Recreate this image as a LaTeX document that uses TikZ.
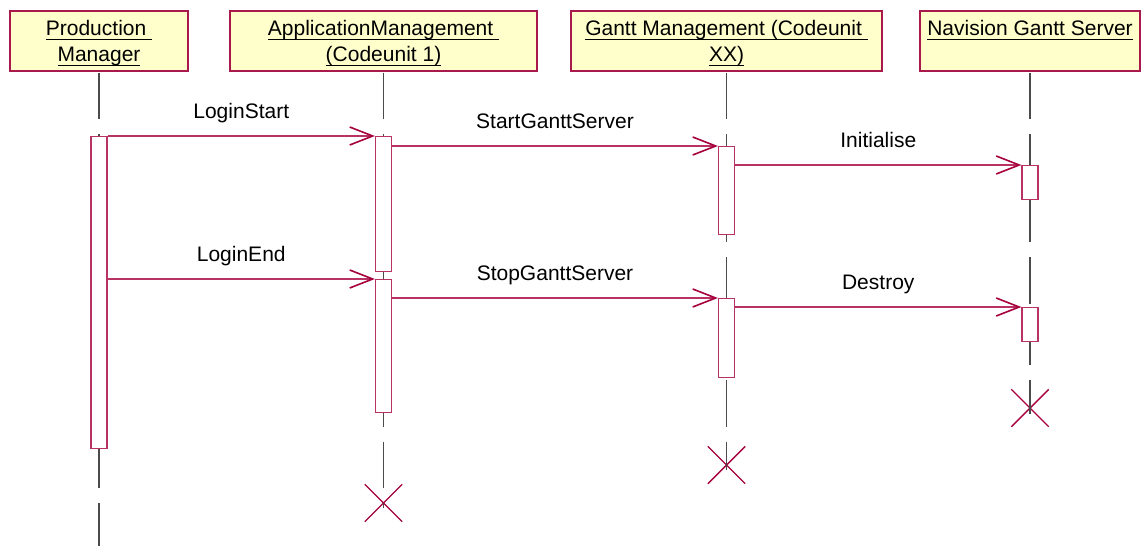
\documentclass[tikz,border=0pt]{standalone}
\usepackage{fontspec}
\setmainfont{Liberation Sans}
\usetikzlibrary{arrows.meta,shapes.misc}
\definecolor{rosedeep}{RGB}{165,0,60}
\definecolor{roseline}{RGB}{185,50,100}
\definecolor{roseframe}{RGB}{170,25,75}
\definecolor{lifegrey}{RGB}{75,75,75}
\definecolor{hdrfill}{RGB}{255,255,204}
% underlined word with the rule at a fixed depth below the baseline
\newcommand\ulword[1]{\setbox0=\hbox{#1}\rlap{\vrule height -3.2pt depth 4.9pt width \wd0}\box0}
\begin{document}
\begin{tikzpicture}[x=1pt,y=-1pt,font=\fontsize{21pt}{25pt}\selectfont,
  hdr/.style={draw=roseframe,line width=1.1pt,fill=hdrfill,minimum height=60pt,inner sep=0pt},
  hdrtxt/.style={anchor=base,inner sep=0pt},
  lifeline/.style={draw=lifegrey,line width=1.1pt,dash pattern=on 46.5pt off 15pt},
  act/.style={draw=roseline,line width=1.2pt,fill=white,minimum width=16pt,inner sep=0pt,anchor=north},
  msg/.style={draw=roseline,line width=1.2pt,-{Straight Barb[length=23pt,width=18pt,line width=1.6pt,color=rosedeep]}},
  msglbl/.style={midway,anchor=base,yshift=17.5pt,inner sep=0pt},
  kill/.style={draw=rosedeep,line width=1.4pt,cross out,minimum size=36pt,inner sep=0pt}]
\useasboundingbox (0,0) rectangle (1141,546);

% object headers
\node[hdr,minimum width=178pt] (pm)  at (99,41)    {};
\node[hdr,minimum width=307pt] (am)  at (383.5,41) {};
\node[hdr,minimum width=311pt] (gm)  at (726.5,41) {};
\node[hdr,minimum width=220pt] (ngs) at (1030,41)  {};

\node[hdrtxt] (pmT1)  at ([yshift=-25pt]pm.north)  {\ulword{Production\ }};
\node[hdrtxt] (pmT2)  at ([yshift=-51pt]pm.north)  {\ulword{Manager}};
\node[hdrtxt] (amT1)  at ([yshift=-25pt]am.north)  {\ulword{ApplicationManagement\ }};
\node[hdrtxt] (amT2)  at ([yshift=-51pt]am.north)  {\ulword{(Codeunit 1)}};
\node[hdrtxt] (gmT1)  at ([yshift=-25pt]gm.north)  {\ulword{Gantt Management (Codeunit\ }};
\node[hdrtxt] (gmT2)  at ([yshift=-51pt]gm.north)  {\ulword{XX)}};
\node[hdrtxt] (ngsT1) at ([yshift=-25pt]ngs.north) {\ulword{Navision Gantt Server}};

% destruction marks and lifeline ends
\node[kill] (amX)  at (383.5,503) {};
\node[kill] (gmX)  at (726.5,465) {};
\node[kill] (ngsX) at (1030,408)  {};
\coordinate (pmEnd) at (99,546);

% lifelines
\draw[lifeline] ([yshift=-1pt]pm.south)  -- (pmEnd);
\draw[lifeline] ([yshift=-1pt]am.south)  -- ([yshift=-5pt]amX.center);
\draw[lifeline] ([yshift=-1pt]gm.south)  -- ([yshift=-5pt]gmX.center);
\draw[lifeline] ([yshift=-1pt]ngs.south) -- ([yshift=-6pt]ngsX.center);

% activations
\node[act,minimum height=312pt] (pmA)   at (99,136)    {};
\node[act,minimum height=135pt] (amA1)  at (383.5,136) {};
\node[act,minimum height=133pt] (amA2)  at (383.5,279) {};
\node[act,minimum height=88pt]  (gmA1)  at (726.5,146) {};
\node[act,minimum height=79pt]  (gmA2)  at (726.5,298) {};
\node[act,minimum height=34pt]  (ngsA1) at (1030,165)  {};
\node[act,minimum height=34pt]  (ngsA2) at (1030,307)  {};

% messages
\draw[msg] (pmA.east |- amA1.north)  -- node[msglbl] (lLS) {LoginStart}       (amA1.north west);
\draw[msg] (amA1.east |- gmA1.north) -- node[msglbl] (lSG) {StartGanttServer} (gmA1.north west);
\draw[msg] (gmA1.east |- ngsA1.north) -- node[msglbl] (lIn) {Initialise}      (ngsA1.north west);
\draw[msg] (pmA.east |- amA2.north)  -- node[msglbl] (lLE) {LoginEnd}         (amA2.north west);
\draw[msg] (amA2.east |- gmA2.north) -- node[msglbl] (lTG) {StopGanttServer}  (gmA2.north west);
\draw[msg] (gmA2.east |- ngsA2.north) -- node[msglbl] (lDe) {Destroy}         (ngsA2.north west);
\end{tikzpicture}
\end{document}
